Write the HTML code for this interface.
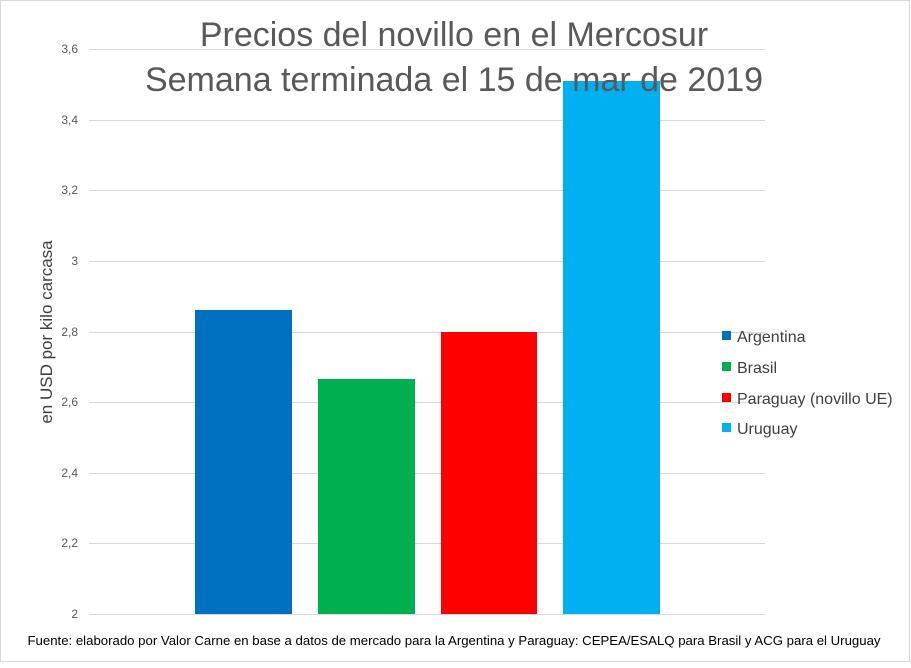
<!DOCTYPE html>
<html><head><meta charset="utf-8"><style>
body{margin:0;background:#fff}
</style></head><body>
<svg width="911" height="663" xmlns="http://www.w3.org/2000/svg" font-family="'Liberation Sans',sans-serif">
<rect x="0.5" y="0.5" width="909" height="661" fill="#fff" stroke="#d9d9d9"/>
<g stroke="#d9d9d9" stroke-width="1">
<line x1="89" x2="765" y1="49.5" y2="49.5"/>
<line x1="89" x2="765" y1="120.5" y2="120.5"/>
<line x1="89" x2="765" y1="190.5" y2="190.5"/>
<line x1="89" x2="765" y1="261.5" y2="261.5"/>
<line x1="89" x2="765" y1="332.5" y2="332.5"/>
<line x1="89" x2="765" y1="402.5" y2="402.5"/>
<line x1="89" x2="765" y1="473.5" y2="473.5"/>
<line x1="89" x2="765" y1="543.5" y2="543.5"/>
<line x1="89" x2="765" y1="614.5" y2="614.5"/>
</g>
<g font-size="12" fill="#595959" text-anchor="end">
<text x="78" y="53">3,6</text>
<text x="78" y="124">3,4</text>
<text x="78" y="194">3,2</text>
<text x="78" y="265">3</text>
<text x="78" y="336">2,8</text>
<text x="78" y="406">2,6</text>
<text x="78" y="477">2,4</text>
<text x="78" y="547">2,2</text>
<text x="78" y="618">2</text>
</g>
<rect x="195" y="310" width="97" height="304" fill="#0070c0"/>
<rect x="318" y="379" width="97" height="235" fill="#00b050"/>
<rect x="441" y="332" width="96" height="282" fill="#ff0000"/>
<rect x="563" y="81" width="97" height="533" fill="#00b0f0"/>
<g font-size="34" fill="#595959" text-anchor="middle">
<text x="454" y="46">Precios del novillo en el Mercosur</text>
<text x="454" y="91">Semana terminada el 15 de mar de 2019</text>
</g>
<text transform="translate(52,332) rotate(-90)" font-size="17" fill="#404040" text-anchor="middle">en USD por kilo carcasa</text>
<g font-size="16" fill="#404040">
<rect x="722" y="331" width="9" height="9" fill="#0070c0"/><text x="737" y="342">Argentina</text>
<rect x="722" y="362" width="9" height="9" fill="#00b050"/><text x="737" y="373">Brasil</text>
<rect x="722" y="393" width="9" height="9" fill="#ff0000"/><text x="737" y="404">Paraguay (novillo UE)</text>
<rect x="722" y="423" width="9" height="9" fill="#00b0f0"/><text x="737" y="434">Uruguay</text>
</g>
<text x="454" y="645" font-size="13.2" fill="#000" text-anchor="middle">Fuente: elaborado por Valor Carne en base a datos de mercado para la Argentina y Paraguay: CEPEA/ESALQ para Brasil y ACG para el Uruguay</text>
</svg>
</body></html>
